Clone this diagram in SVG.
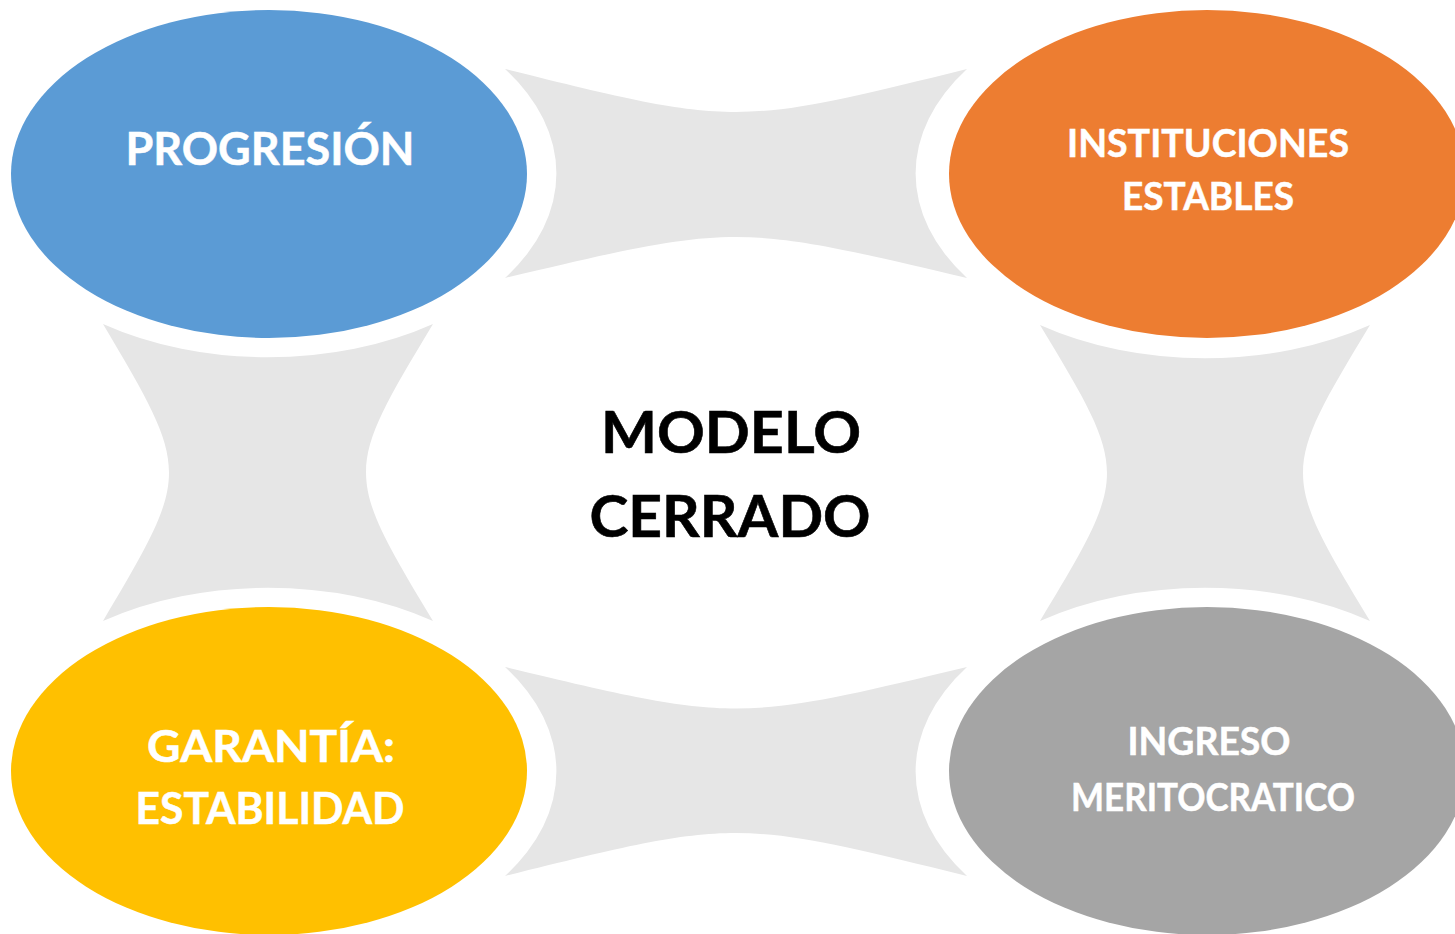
<svg xmlns="http://www.w3.org/2000/svg" width="1455" height="934" viewBox="0 0 1455 934">
<style>
.conn{fill:#E6E6E6;stroke:none}
.lbl{font-family:Lato,"Open Sans","Liberation Sans",sans-serif;font-weight:bold;fill:#FFFFFF;stroke:#FFFFFF;stroke-width:0.5;text-anchor:middle}
.ctr{font-family:Lato,"Open Sans","Liberation Sans",sans-serif;font-weight:bold;fill:#000000;stroke:#000000;stroke-width:0.6;text-anchor:middle}
</style>
<rect width="1455" height="934" fill="#FFFFFF"/>
<g id="center">
<ellipse cx="736" cy="472" rx="360" ry="225" fill="#FFFFFF"/>
<text class="ctr" x="731" y="453" font-size="58" textLength="260" lengthAdjust="spacingAndGlyphs">MODELO</text>
<text class="ctr" x="730" y="537" font-size="58" textLength="281" lengthAdjust="spacingAndGlyphs">CERRADO</text>
</g>
<g id="connectors">
<path class="conn" d="M505,69 C736,126.3 736,126.3 967,69 A287,183 0 0 0 967,278 C736,223.3 736,223.3 505,278 A287,183 0 0 0 505,69 Z"/>
<path class="conn" d="M103,324 A287,183 0 0 0 433,324 C343.7,472.5 343.7,472.5 433,621 A287,183 0 0 0 103,621 C191,472.5 191,472.5 103,324 Z"/>
<path class="conn" d="M1040,325 A287,183 0 0 0 1370,325 C1280.7,473 1280.7,473 1370,621 A287,183 0 0 0 1040,621 C1129.3,473 1129.3,473 1040,325 Z"/>
<path class="conn" d="M505,667 C736,722.3 736,722.3 967,667 A287,183 0 0 0 967,876 C736,818.7 736,818.7 505,876 A287,183 0 0 0 505,667 Z"/>
</g>
<g id="progresion">
<ellipse cx="269" cy="174" rx="258" ry="164" fill="#5B9BD5"/>
<text class="lbl" x="270" y="165" font-size="46" textLength="289" lengthAdjust="spacingAndGlyphs">PROGRESIÓN</text>
</g>
<g id="instituciones">
<ellipse cx="1207" cy="174" rx="258" ry="164" fill="#ED7D31"/>
<text class="lbl" x="1208" y="157" font-size="39" textLength="282" lengthAdjust="spacingAndGlyphs">INSTITUCIONES</text>
<text class="lbl" x="1208" y="210" font-size="39" textLength="172" lengthAdjust="spacingAndGlyphs">ESTABLES</text>
</g>
<g id="garantia">
<ellipse cx="269" cy="771" rx="258" ry="164" fill="#FFC000"/>
<text class="lbl" x="271" y="762" font-size="44" textLength="248" lengthAdjust="spacingAndGlyphs">GARANTÍA:</text>
<text class="lbl" x="270" y="824" font-size="44" textLength="269" lengthAdjust="spacingAndGlyphs">ESTABILIDAD</text>
</g>
<g id="ingreso">
<ellipse cx="1207" cy="771" rx="258" ry="164" fill="#A5A5A5"/>
<text class="lbl" x="1209" y="755" font-size="39" textLength="163" lengthAdjust="spacingAndGlyphs">INGRESO</text>
<text class="lbl" x="1213" y="811" font-size="39" textLength="284" lengthAdjust="spacingAndGlyphs">MERITOCRATICO</text>
</g>
</svg>
